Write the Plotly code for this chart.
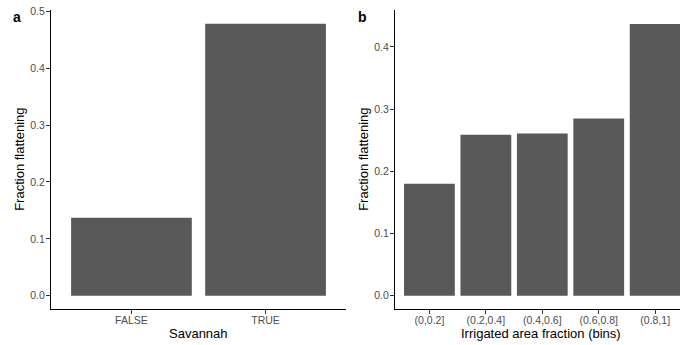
import plotly.graph_objects as go

# Data
savannah_cats = ["FALSE", "TRUE"]
savannah_vals = [0.137, 0.478]
irr_cats = ["(0,0.2]", "(0.2,0.4]", "(0.4,0.6]", "(0.6,0.8]", "(0.8,1]"]
irr_vals = [0.180, 0.259, 0.261, 0.285, 0.437]

W, H = 680, 345
BAR = "#595959"
FONT = "Liberation Sans, Arial, sans-serif"

fig = go.Figure()
fig.add_trace(go.Bar(x=savannah_cats, y=savannah_vals, marker=dict(color=BAR, line=dict(width=0)),
                     xaxis="x", yaxis="y", showlegend=False))
fig.add_trace(go.Bar(x=irr_cats, y=irr_vals, marker=dict(color=BAR, line=dict(width=0)),
                     xaxis="x2", yaxis="y2", showlegend=False))

ydom = [(H - 309.3) / H, (H - 10.4) / H]
axis_common = dict(showline=True, linecolor="black", linewidth=1, ticks="outside", ticklen=4,
                   tickcolor="#333333", tickwidth=1, showgrid=False, zeroline=False,
                   automargin=False)
xt = dict(tickfont=dict(family=FONT, size=10.5, color="#4D4D4D"), ticklabelstandoff=-3)
yt = dict(tickfont=dict(family=FONT, size=10.5, color="#4D4D4D"), ticklabelstandoff=-1)

fig.update_layout(
    width=W, height=H, margin=dict(l=0, r=0, t=0, b=0),
    paper_bgcolor="white", plot_bgcolor="white", bargap=0.1,
    xaxis=dict(domain=[51 / W, 346 / W], range=[-0.6, 1.6], type="category", anchor="y",
               **axis_common, **xt),
    yaxis=dict(domain=ydom, range=[-0.0239, 0.5016], tickvals=[0, 0.1, 0.2, 0.3, 0.4, 0.5],
               tickformat=".1f", anchor="x", **axis_common, **yt),
    xaxis2=dict(domain=[395 / W, 1.0], range=[-0.61, 4.44], type="category", anchor="y2",
                **axis_common, **xt),
    yaxis2=dict(domain=ydom, range=[-0.0218, 0.4587], tickvals=[0, 0.1, 0.2, 0.3, 0.4],
                tickformat=".1f", anchor="x2", **axis_common, **yt),
)

ann_font = dict(family=FONT, size=13, color="black")
cy = 1 - ((10.4 + 309.3) / 2) / H
fig.add_annotation(text="Fraction flattening", x=20 / W, y=cy, xref="paper", yref="paper",
                   textangle=-90, showarrow=False, font=ann_font, xanchor="center", yanchor="middle")
fig.add_annotation(text="Fraction flattening", x=364 / W, y=cy, xref="paper", yref="paper",
                   textangle=-90, showarrow=False, font=ann_font, xanchor="center", yanchor="middle")
fig.add_annotation(text="Savannah", x=((51 + 346) / 2) / W, y=1 - 333 / H, xref="paper", yref="paper",
                   showarrow=False, font=ann_font, xanchor="center", yanchor="middle")
fig.add_annotation(text="Irrigated area fraction (bins)", x=((395 + 687) / 2) / W, y=1 - 333 / H,
                   xref="paper", yref="paper", showarrow=False, font=ann_font,
                   xanchor="center", yanchor="middle")
lab_font = dict(family=FONT, size=14, color="black")
fig.add_annotation(text="<b>a</b>", x=17 / W, y=1 - 17 / H, xref="paper", yref="paper",
                   showarrow=False, font=lab_font, xanchor="center", yanchor="middle")
fig.add_annotation(text="<b>b</b>", x=362 / W, y=1 - 17 / H, xref="paper", yref="paper",
                   showarrow=False, font=lab_font, xanchor="center", yanchor="middle")

fig.write_html("out.html")
